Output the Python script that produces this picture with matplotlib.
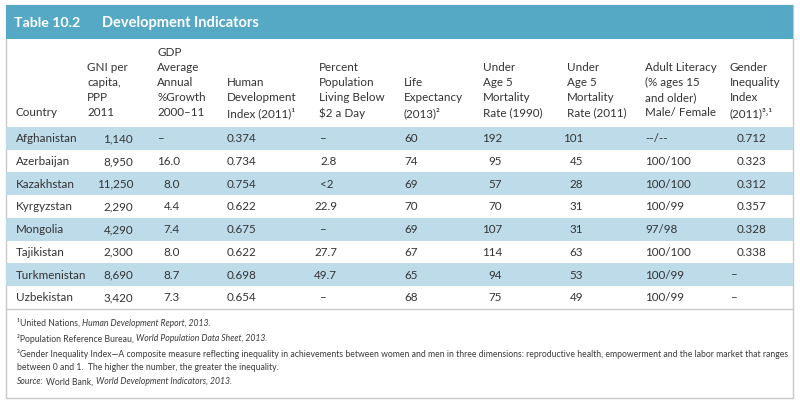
import matplotlib
matplotlib.use("Agg")
import matplotlib.pyplot as plt
from matplotlib.patches import Rectangle

plt.rcParams['font.family'] = ['Lato', 'DejaVu Sans']

# table data
title_num = "Table 10.2"
title_txt = "Development Indicators"

headers = [
    "Country",
    "GNI per\ncapita,\nPPP\n2011",
    "GDP\nAverage\nAnnual\n%Growth\n2000–11",
    "Human\nDevelopment\nIndex (2011)¹",
    "Percent\nPopulation\nLiving Below\n\\$2 a Day",
    "Life\nExpectancy\n(2013)²",
    "Under\nAge 5\nMortality\nRate (1990)",
    "Under\nAge 5\nMortality\nRate (2011)",
    "Adult Literacy\n(% ages 15\nand older)\nMale/ Female",
    "Gender\nInequality\nIndex\n(2011)³˒¹",
]

countries = ["Afghanistan", "Azerbaijan", "Kazakhstan", "Kyrgyzstan",
             "Mongolia", "Tajikistan", "Turkmenistan", "Uzbekistan"]
gni = [1140, 8950, 11250, 2290, 4290, 2300, 8690, 3420]
gdp_growth = [None, 16.0, 8.0, 4.4, 7.4, 8.0, 8.7, 7.3]
hdi = [0.374, 0.734, 0.754, 0.622, 0.675, 0.622, 0.698, 0.654]
pct_below_2 = [None, "2.8", "<2", "22.9", None, "27.7", "49.7", None]
life_exp = [60, 74, 69, 70, 69, 67, 65, 68]
u5_1990 = [192, 95, 57, 70, 107, 114, 94, 75]
u5_2011 = [101, 45, 28, 31, 31, 63, 53, 49]
literacy = ["--/--", "100/100", "100/100", "100/99", "97/98", "100/100", "100/99", "100/99"]
gii = [0.712, 0.323, 0.312, 0.357, 0.328, 0.338, None, None]

footnotes = [
    [("¹United Nations, ", "normal"), ("Human Development Report, 2013.", "italic")],
    [("²Population Reference Bureau, ", "normal"), ("World Population Data Sheet, 2013.", "italic")],
    [("³Gender Inequality Index—A composite measure reflecting inequality in achievements between women "
      "and men in three dimensions: reproductive health, empowerment and the labor market that ranges", "normal")],
    [("between 0 and 1.  The higher the number, the greater the inequality.", "normal")],
    [("Source:", "italic"), ("World Bank, ", "normal"), ("World Development Indicators, 2013.", "italic")],
]


def fmt(v, f):
    if v is None:
        return "–"
    return f(v) if callable(f) else str(v)


columns = [
    [fmt(v, str) for v in countries],
    [fmt(v, lambda x: f"{x:,}") for v in gni],
    [fmt(v, lambda x: f"{x:.1f}") for v in gdp_growth],
    [fmt(v, lambda x: f"{x:.3f}") for v in hdi],
    [fmt(v, str) for v in pct_below_2],
    [fmt(v, str) for v in life_exp],
    [fmt(v, str) for v in u5_1990],
    [fmt(v, str) for v in u5_2011],
    [fmt(v, str) for v in literacy],
    [fmt(v, lambda x: f"{x:.3f}") for v in gii],
]

# layout (pixel coordinates)
head_x = [16, 87, 157, 227, 319, 404, 483, 567, 645, 730]
val_x = [16, 133, 180, 227, 337, 404, 502, 583, 645, 737]
val_ha = ["left", "right", "right", "left", "right", "left", "right", "right", "left", "left"]

BLUE = "#55a9c5"
STRIPE = "#bddbe9"
GREY = "#c9c9c9"
TXT = "#333333"

fig = plt.figure(figsize=(8, 4.01), dpi=100)
ax = fig.add_axes([0, 0, 1, 1])
ax.set_xlim(0, 800)
ax.set_ylim(401, 0)
ax.axis("off")

left, right, top, bottom = 6, 793, 5, 398
ax.add_patch(Rectangle((left, top), right - left, bottom - top, fc="white", ec=GREY, lw=1))
ax.add_patch(Rectangle((left, top), right - left, 34, fc=BLUE, ec="none"))
ax.text(14, 23, title_num, color="white", fontsize=10.2, fontweight="bold", va="center")
ax.text(102, 23, title_txt, color="white", fontsize=10.5, fontweight="bold", va="center")

fs = 8.4
for x, h in zip(head_x, headers):
    lines = h.split("\n")
    for i, line in enumerate(lines):
        y = 113 - (len(lines) - 1 - i) * 15.2
        ax.text(x, y, line, fontsize=fs, color=TXT, ha="left", va="center")

row_top, row_h = 127, 22.7
for r in range(len(countries)):
    y0 = row_top + r * row_h
    if r % 2 == 0:
        ax.add_patch(Rectangle((left, y0), right - left, row_h, fc=STRIPE, ec="none"))
    yc = y0 + row_h / 2 + 0.5
    for c, col in enumerate(columns):
        s = col[r]
        if s in ("–", "<2") and c > 0:
            ax.text(head_x[c] + 1, yc, s, fontsize=fs, color=TXT, ha="left", va="center")
        else:
            ax.text(val_x[c], yc, s, fontsize=fs, color=TXT, ha=val_ha[c], va="center")

table_bottom = row_top + len(countries) * row_h
ax.plot([left, right], [table_bottom, table_bottom], color=GREY, lw=1)

# footnotes, pieces drawn one after another
fig.canvas.draw()
renderer = fig.canvas.get_renderer()
foot_y = [323, 338.5, 354, 367.5, 382]
for y, pieces in zip(foot_y, footnotes):
    x = 17
    for k, (s, style) in enumerate(pieces):
        t = ax.text(x, y, s, fontsize=6.2, style=style, color="#3a3a3a", ha="left", va="center")
        x += t.get_window_extent(renderer).width
        if s.endswith(":"):
            x += 2.5

fig.savefig("out.png", dpi=100)
